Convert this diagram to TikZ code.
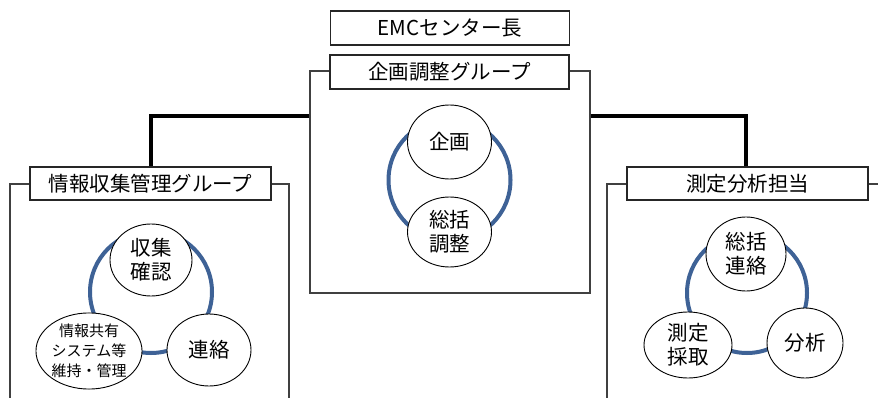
\documentclass[tikz,border=0pt]{standalone}
\usepackage{fontspec}
\setmainfont{Noto Sans CJK JP}
\usetikzlibrary{shapes.geometric, calc}
\definecolor{ringblue}{RGB}{62,98,150}
\tikzset{
    my-title-box/.style={
        draw=black!85, line width=1.2pt, fill=white, inner sep=0pt,
        minimum width=239pt, minimum height=34pt,
        font=\fontsize{20.5}{24}\selectfont
    },
    my-frame/.style={
        draw=black!75, line width=1.3pt, fill=white, inner sep=0pt
    },
    my-task/.style={
        ellipse, draw, line width=0.9pt, fill=white, inner sep=0pt, align=center,
        font=\fontsize{20.5}{24}\selectfont
    },
    my-ring/.style={
        draw=ringblue, line width=4pt
    },
    my-link/.style={
        line width=4.5pt
    },
}

\begin{document}
\begin{tikzpicture}[x=1pt, y=-1pt]

        \useasboundingbox (0,0) rectangle (878,398);
        \clip (0,0) rectangle (878,398);

        % FRAMES
        \node[my-frame, minimum width=280pt, minimum height=222pt] (CFRAME) at (450,182)   {};
        \node[my-frame, minimum width=279pt, minimum height=240pt] (LFRAME) at (149.5,304) {};
        \node[my-frame, minimum width=300pt, minimum height=240pt] (RFRAME) at (757,304)   {};

        % LINKS
        \coordinate[] (LINKL) at (151,116);
        \coordinate[] (LINKR) at (746,116);

        % TITLES
        \node[my-title-box] (HEAD)   at (450,28)    {EMCセンター長};
        \node[my-title-box] (CGROUP) at (449.5,72)  {企画調整グループ};
        \node[my-title-box, minimum width=241pt, minimum height=33pt] (LGROUP) at (150.5,183.5) {情報収集管理グループ};
        \node[my-title-box, minimum width=241pt, minimum height=33pt] (RGROUP) at (747.5,183.5) {測定分析担当};

        % LINK CONNECTIONS
        \draw[my-link] (CFRAME.west |- LINKL) -- (LINKL) -- (LINKL |- LGROUP.north);
        \draw[my-link] (CFRAME.east |- LINKR) -- (LINKR) -- (LINKR |- RGROUP.north);

        % RINGS
        \coordinate[] (CRING) at (449.5,180);
        \coordinate[] (LRING) at (151,292);
        \coordinate[] (RRING) at (747,293);
        \draw[my-ring] (CRING) circle[radius=61pt];
        \draw[my-ring] (LRING) circle[radius=61pt];
        \draw[my-ring] (RRING) circle[radius=60pt];

        % TASKS, CENTRAL GROUP
        \node[my-task, minimum width=84pt, minimum height=74pt] (PLAN)  at (449.5,142) {企画};
        \node[my-task, minimum width=84pt, minimum height=70pt] (ADJ)   at (449.5,232) {総括\\調整};

        % TASKS, LEFT GROUP
        \node[my-task, minimum width=82pt, minimum height=72pt] (COLL)  at (151,260) {収集\\確認};
        \node[my-task, minimum width=84pt, minimum height=70pt,
              font=\fontsize{15}{20}\selectfont]                  (SHARE) at (89,351)  {情報共有\\システム等\\維持・管理};
        \node[my-task, minimum width=84pt, minimum height=72pt] (LCONT) at (209,350) {連絡};

        % TASKS, RIGHT GROUP
        \node[my-task, minimum width=80pt, minimum height=74pt] (RCONT) at (746,254) {総括\\連絡};
        \node[my-task, minimum width=88pt, minimum height=66pt] (MEAS)  at (688,345) {測定\\採取};
        \node[my-task, minimum width=76pt, minimum height=70pt] (ANAL)  at (805,343) {分析};

    \end{tikzpicture}
\end{document}
